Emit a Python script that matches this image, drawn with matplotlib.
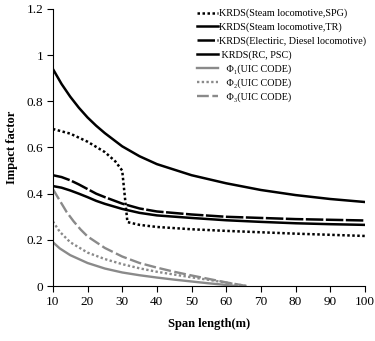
import matplotlib
matplotlib.use('Agg')
import matplotlib.pyplot as plt
from matplotlib.ticker import FuncFormatter

plt.rcParams['font.family'] = ['Liberation Serif', 'DejaVu Serif']
plt.rcParams['mathtext.fontset'] = 'stix'

# span lengths (m) and impact factors
tr_x = [10, 12.5, 15, 17.5, 20, 22.5, 25, 30, 35, 40, 50, 60, 70, 80, 90, 100]
tr_y = [0.94, 0.875, 0.82, 0.772, 0.73, 0.694, 0.662, 0.605, 0.562, 0.528, 0.48, 0.445, 0.416, 0.394, 0.377, 0.364]

spg_x = [10, 15, 20, 25, 28, 30, 31.5, 35, 40, 50, 60, 70, 80, 90, 100]
spg_y = [0.68, 0.66, 0.625, 0.58, 0.54, 0.50, 0.277, 0.265, 0.256, 0.246, 0.239, 0.233, 0.227, 0.222, 0.217]

ele_x = [10, 12.5, 15, 17.5, 20, 22.5, 25, 30, 35, 40, 50, 60, 70, 80, 90, 100]
ele_y = [0.48, 0.472, 0.458, 0.44, 0.42, 0.40, 0.385, 0.357, 0.336, 0.323, 0.31, 0.30, 0.295, 0.29, 0.287, 0.284]

rc_x = [10, 12.5, 15, 17.5, 20, 22.5, 25, 30, 35, 40, 50, 60, 70, 80, 90, 100]
rc_y = [0.433, 0.426, 0.414, 0.40, 0.385, 0.369, 0.356, 0.334, 0.317, 0.306, 0.295, 0.285, 0.278, 0.272, 0.268, 0.265]

phi1_x = [10, 12, 15, 20, 25, 30, 35, 40, 45, 50, 55, 60, 63]
phi1_y = [0.19, 0.163, 0.134, 0.10, 0.076, 0.059, 0.047, 0.037, 0.028, 0.02, 0.012, 0.005, 0.0]

phi2_x = [10, 12, 15, 20, 25, 30, 35, 40, 45, 50, 55, 60, 66]
phi2_y = [0.28, 0.235, 0.19, 0.145, 0.117, 0.095, 0.077, 0.062, 0.05, 0.038, 0.027, 0.015, 0.0]

phi3_x = [10, 12, 14, 16, 18, 20, 25, 30, 35, 40, 45, 50, 55, 60, 66]
phi3_y = [0.42, 0.37, 0.32, 0.28, 0.245, 0.215, 0.165, 0.128, 0.10, 0.08, 0.062, 0.046, 0.031, 0.016, 0.0]

gray = '#8a8a8a'

fig = plt.figure(figsize=(3.75, 3.41), dpi=100)
ax = fig.add_axes([0.141, 0.161, 0.832, 0.813])

ax.plot(spg_x, spg_y, color='black', lw=1.8, linestyle=(0, (1, 1)),
        label='KRDS(Steam locomotive,SPG)')
ax.plot(tr_x, tr_y, color='black', lw=1.8, label='KRDS(Steam locomotive,TR)')
ax.plot(ele_x, ele_y, color='black', lw=1.8, linestyle=(0, (7, 1)),
        label='KRDS(Electiric, Diesel locomotive)')
ax.plot(rc_x, rc_y, color='black', lw=1.8, label=' KRDS(RC, PSC)')
ax.plot(phi1_x, phi1_y, color=gray, lw=1.7, label='   Φ₁(UIC CODE)')
ax.plot(phi2_x, phi2_y, color=gray, lw=1.7, linestyle=(0, (1, 1)),
        label='   Φ₂(UIC CODE)')
ax.plot(phi3_x, phi3_y, color=gray, lw=1.7, linestyle=(0, (5, 1.5)),
        label='   Φ₃(UIC CODE)')

ax.set_xlim(10, 100)
ax.set_ylim(0, 1.2)
ax.set_xticks(range(10, 101, 10))
ax.set_yticks([0, 0.2, 0.4, 0.6, 0.8, 1.0, 1.2])
ax.yaxis.set_major_formatter(FuncFormatter(lambda v, p: '%g' % round(v, 1)))
ax.tick_params(direction='out', length=4, width=0.8, labelsize=9.5, pad=3)
ax.spines['top'].set_visible(False)
ax.spines['right'].set_visible(False)

ax.set_xlabel('Span length(m)', fontsize=9, fontweight='bold', labelpad=7)
ax.set_ylabel('Impact factor', fontsize=9, fontweight='bold', labelpad=6)

ax.legend(loc='upper left', bbox_to_anchor=(0.45, 1.015), frameon=False,
          fontsize=7.3, handlelength=2.0, handletextpad=0.15, labelspacing=0.42,
          borderaxespad=0)

fig.savefig('out.png', dpi=100)
